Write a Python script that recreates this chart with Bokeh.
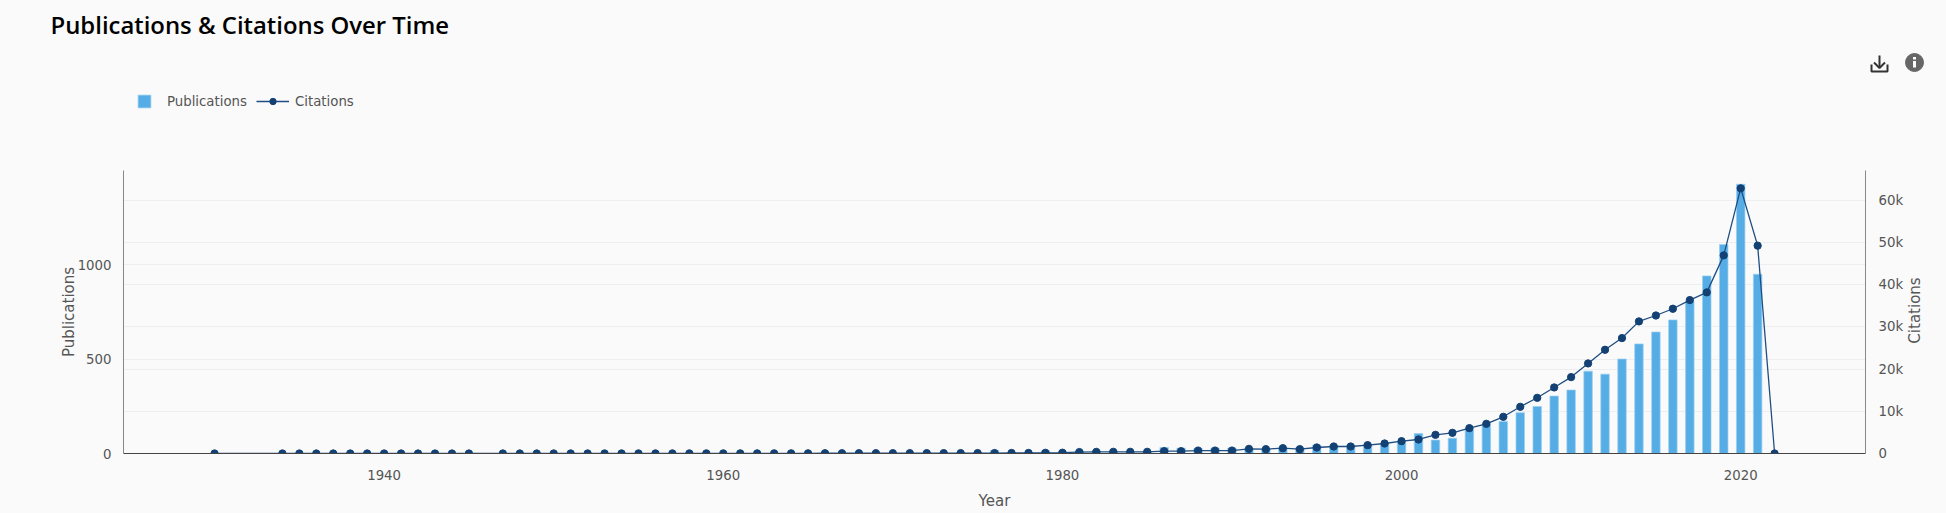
import math
from bokeh.plotting import figure
from bokeh.embed import file_html
from bokeh.layouts import column, row
from bokeh.resources import INLINE
from bokeh.models import (Range1d, LinearAxis, FixedTicker, Grid, Legend, LegendItem,
                          CustomJSTickFormatter, Label)

# ---- data ----
pub_years = list(range(1973, 2022))
publications = [3, 4, 5, 16, 6, 8, 14, 12, 14, 16, 14, 10, 12, 32, 28, 26, 28, 28, 25, 24, 30, 30,
                44, 44, 44, 50, 53, 62, 106, 71, 81, 131, 155, 170, 216, 249, 304, 336, 436, 420,
                500, 580, 643, 707, 806, 940, 1106, 1425, 949]
cit_years = [1930] + list(range(1934, 1946)) + list(range(1947, 2023))
citations = [5, 5, 5, 5, 5, 5, 5, 5, 5, 5, 5, 5, 5,
             10, 10, 10, 10, 15, 15, 15, 20, 20, 20, 25, 25, 30, 30, 35, 35, 40, 45, 50, 55,
             60, 65, 70, 75, 80, 85, 90, 95, 100, 110, 120, 130, 170, 190, 340, 380,
             400, 400, 400, 550, 550, 700, 700, 700, 1100, 1030, 1260, 1030, 1420, 1660, 1660,
             1975, 2370, 2925, 3320, 4427, 4900, 6008, 7035, 8695, 11067, 13200, 15650,
             18100, 21340, 24580, 27350, 31300, 32700, 34300, 36360, 38180, 46950, 62840,
             49250, 0]

x_ticks = [1940, 1960, 1980, 2000, 2020]
left_ticks = [0, 500, 1000]
right_ticks = [0, 10000, 20000, 30000, 40000, 50000, 60000]

FONT = "DejaVu Sans"
TICK = "#555555"
BG = "#fafafa"
NAN = float("nan")
BAR = "#56ADE6"
BAR_EDGE = "#9ACFF0"
LINE = "#1F4E82"
DOT = "#134174"

# main plot
p = figure(frame_width=1742, frame_height=283, output_backend="svg", toolbar_location=None,
           x_range=Range1d(1924.63, 2027.36), y_range=Range1d(0, 1498),
           background_fill_color=BG, border_fill_color=BG,
           outline_line_color=None, min_border_left=123, min_border_right=39,
           min_border_top=0, min_border_bottom=60, frame_align=False)
p.extra_y_ranges = {"cit": Range1d(0, 67060)}

p.vbar(x=pub_years, top=publications, width=0.5, bottom=0,
       fill_color=BAR, line_color=BAR_EDGE, line_width=0.7)
p.line(cit_years, citations, y_range_name="cit", line_color=LINE, line_width=1.3)
p.scatter(cit_years, citations, y_range_name="cit", size=7.3, marker="circle",
          fill_color=DOT, line_color=DOT)

ax = p.xaxis[0]
ax.ticker = FixedTicker(ticks=x_ticks)
ax.axis_label = "Year"
ay = p.yaxis[0]
ay.ticker = FixedTicker(ticks=left_ticks)
ay.axis_label = "Publications"
ar = LinearAxis(y_range_name="cit", ticker=FixedTicker(ticks=right_ticks),
                formatter=CustomJSTickFormatter(code="return tick === 0 ? '0' : (tick/1000) + 'k';"))
p.add_layout(ar, "right")

for a in (ax, ay, ar):
    a.major_tick_line_color = None
    a.minor_tick_line_color = None
    a.major_label_text_font = FONT
    a.major_label_text_font_size = "13.3px"
    a.major_label_text_color = TICK
    a.axis_label_text_font = FONT
    a.axis_label_text_font_size = "15px"
    a.axis_label_text_font_style = "normal"
    a.axis_label_text_color = TICK
ax.axis_line_color = "#444444"
ay.axis_line_color = ar.axis_line_color = "#888888"
ax.major_label_standoff = 10
ax.axis_label_standoff = 9
ay.major_label_standoff = 6
ay.axis_label_standoff = -3
ar.major_label_standoff = 7

p.xgrid.visible = False
p.ygrid.ticker = FixedTicker(ticks=left_ticks[1:])
p.ygrid.grid_line_color = "#eeeeee"
p.add_layout(Grid(dimension=1, y_range_name="cit", ticker=FixedTicker(ticks=right_ticks[1:]),
                  grid_line_color="#eeeeee"))

# narrow strip on the right holding the upright "Citations" axis title
side = figure(width=42, height=343, output_backend="svg", toolbar_location=None,
              x_range=Range1d(1904, 1946), y_range=Range1d(513, 170),
              x_axis_type=None, y_axis_type=None,
              background_fill_color=BG, border_fill_color=BG, outline_line_color=None,
              min_border=0, frame_align=False)
side.grid.visible = False
side.add_layout(Label(x=1912.7, y=310, text="Citations", angle=math.pi / 2, text_font=FONT,
                      text_font_size="15px", text_color=TICK, text_align="center",
                      text_baseline="middle"))

# header strip: title, legend, icons
h = figure(width=1946, height=170, output_backend="svg", toolbar_location=None,
           x_range=Range1d(0, 1946), y_range=Range1d(170, 0),
           x_axis_type=None, y_axis_type=None,
           background_fill_color=BG, border_fill_color=BG, outline_line_color=None,
           min_border=0, frame_align=False)
h.grid.visible = False

key_bar = h.vbar(x=[NAN], top=[NAN], width=1, fill_color=BAR, line_color=BAR_EDGE, line_width=0.7)
key_line = h.line([NAN], [NAN], line_color=LINE, line_width=1.3)
key_dot = h.scatter([NAN], [NAN], size=7.3, marker="circle", fill_color=DOT, line_color=DOT)

l1 = Legend(items=[LegendItem(label="Publications", renderers=[key_bar])], location=(136, 61),
            glyph_width=16, glyph_height=16, label_standoff=15, padding=0, margin=0, spacing=0,
            border_line_color=None, background_fill_alpha=0, label_height=16,
            label_text_font=FONT, label_text_font_size="13.3px", label_text_color=TICK)
l2 = Legend(items=[LegendItem(label="Citations", renderers=[key_line, key_dot])], location=(256, 61),
            glyph_width=33, glyph_height=16, label_standoff=6, padding=0, margin=0, spacing=0,
            border_line_color=None, background_fill_alpha=0, label_height=16,
            label_text_font=FONT, label_text_font_size="13.3px", label_text_color=TICK)
h.add_layout(l1, "center")
h.add_layout(l2, "center")

h.add_layout(Label(x=50, y=24, text="Publications & Citations Over Time",
                   text_font='"Open Sans SemiBold", "Open Sans"',
                   text_font_size="23.9px", text_font_style="normal", text_color="#000000",
                   text_baseline="middle"))

# toolbar icons
h.multi_line(xs=[[1879, 1879], [1873.5, 1879, 1884.5], [1871, 1871, 1887, 1887]],
             ys=[[55, 67], [62, 67.5, 62], [64, 71, 71, 64]], line_color="#333333", line_width=2)
h.scatter([1914], [62], size=18, marker="circle", fill_color="#666666", line_color="#666666")
h.quad(left=[1912.5, 1912.5], right=[1915.5, 1915.5], top=[56.5, 60.5], bottom=[59, 67],
       fill_color="#ffffff", line_color=None)

page = column(h, row(p, side, spacing=0), spacing=0)
html = file_html(page, INLINE).replace("<head>", "<head><style>html,body{background:#fafafa}</style>", 1)
open("out.html", "w").write(html)
